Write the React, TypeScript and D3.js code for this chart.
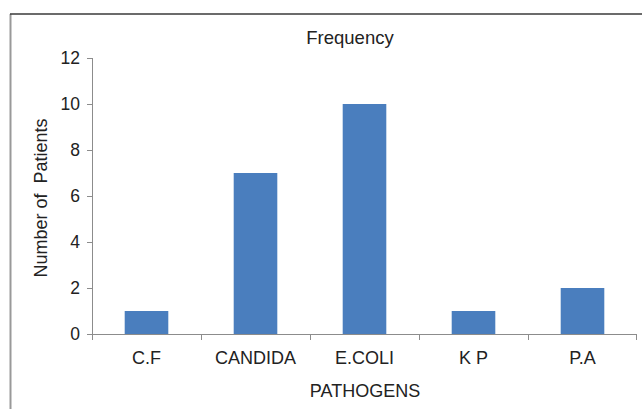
import React from "react";
import * as d3 from "d3";

const categories = ["C.F", "CANDIDA", "E.COLI", "K P", "P.A"];
const patients = [1, 7, 10, 1, 2];
const yTicks = [0, 2, 4, 6, 8, 10, 12];
const chartTitle = "Frequency";
const xTitle = "PATHOGENS";
const yTitle = "Number of  Patients";

export default function App() {
  const W = 642, H = 409;
  const left = 92, right = 637, top = 58, bottom = 334;
  const x = d3.scaleBand<string>().domain(categories).range([left, right]).paddingInner(0.6).paddingOuter(0.3);
  const xb = d3.scaleBand<string>().domain(categories).range([left, right]);
  const y = d3.scaleLinear().domain([0, 12]).range([bottom, top]);
  const font = "'Liberation Sans', Arial, sans-serif";
  const axisColor = "#8c8c8c";
  const txt = "#222";
  return (
    <svg width={W} height={H} style={{ position: "absolute", left: 0, top: 0, background: "#fff" }} fontFamily={font}>
      <rect x={0} y={0} width={W} height={H} fill="#fff" />
      <line x1={10.5} y1={14} x2={10.5} y2={H} stroke="#999" strokeWidth={2} />
      <line x1={10} y1={14} x2={W} y2={14} stroke="#3a3a3a" strokeWidth={1.5} />
      <text x={350} y={44} textAnchor="middle" fontSize={18.5} fill={txt}>{chartTitle}</text>
      {categories.map((c, i) => (
        <rect key={c} x={x(c)} y={y(patients[i])} width={x.bandwidth()} height={bottom - y(patients[i])} fill="#4A7EBE" />
      ))}
      <line x1={left + 0.5} y1={y(12)} x2={left + 0.5} y2={bottom} stroke={axisColor} strokeWidth={1} />
      {yTicks.map((t) => (
        <g key={t}>
          <line x1={left - 5} x2={left} y1={y(t) + 0.5} y2={y(t) + 0.5} stroke={axisColor} />
          <text x={left - 12} y={y(t)} dy="0.36em" textAnchor="end" fontSize={17.5} fill={txt}>{t}</text>
        </g>
      ))}
      <line x1={left} y1={bottom + 0.5} x2={right} y2={bottom + 0.5} stroke={axisColor} strokeWidth={1} />
      {categories.map((c) => (
        <line key={"t" + c} x1={(xb(c) as number) + 0.5} x2={(xb(c) as number) + 0.5} y1={bottom} y2={bottom + 6} stroke={axisColor} />
      ))}
      <line x1={right - 0.5} x2={right - 0.5} y1={bottom} y2={bottom + 6} stroke={axisColor} />
      {categories.map((c) => (
        <text key={"l" + c} x={(xb(c) as number) + xb.bandwidth() / 2} y={363.5} textAnchor="middle" fontSize={18} fill={txt}>{c}</text>
      ))}
      <text x={365} y={397} textAnchor="middle" fontSize={18} fill={txt}>{xTitle}</text>
      <text transform={`translate(47,198) rotate(-90)`} textAnchor="middle" fontSize={18} fill={txt} style={{ whiteSpace: "pre" }} xmlSpace="preserve">{yTitle}</text>
    </svg>
  );
}
